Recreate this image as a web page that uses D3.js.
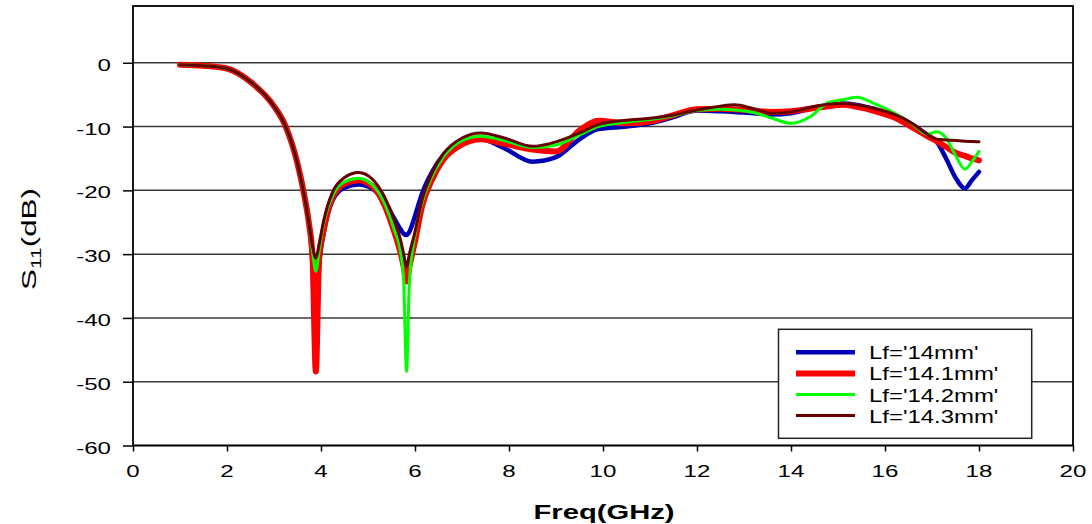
<!DOCTYPE html>
<html>
<head>
<meta charset="utf-8">
<script src="https://cdn.jsdelivr.net/npm/d3@7"></script>
<style>
  html, body { margin: 0; padding: 0; background: #fff; }
  svg { display: block; }
  text { font-family: Arial, "Liberation Sans", sans-serif; fill: #000; }
</style>
</head>
<body>
<svg id="chart" width="1092" height="524"></svg>
<script>
// Frequency sweep (GHz), shared by all four simulations
const freq = [1.0, 1.5, 2.0, 2.5, 3.0, 3.25, 3.5, 3.65, 3.75, 3.82,
  3.89, 3.96, 4.05, 4.25, 4.5, 4.8, 5.1, 5.35, 5.55, 5.7,
  5.76, 5.82, 5.88, 6.0, 6.15, 6.35, 6.6, 7.0, 7.4, 7.9,
  8.5, 9.0, 9.5, 9.9, 10.5, 11.0, 11.5, 12.0, 12.5, 12.8,
  13.2, 13.6, 14.0, 14.4, 14.8, 15.1, 15.4, 15.8, 16.2, 16.6,
  16.9, 17.1, 17.3, 17.5, 17.7, 17.85, 18.0];

// S11 (dB) for each feed length
const s11_14 = [-0.3, -0.45, -0.9, -3.0, -6.8, -10.0, -15.8, -21, -25.5, -32,
  -46, -32, -27, -21.5, -19.6, -19.1, -19.8, -21.8, -24.3, -26.2,
  -26.8, -27.0, -26.5, -24, -20.5, -17.3, -14.5, -12.6, -12.0, -13.4,
  -15.5, -14.8, -12.0, -10.4, -10.0, -9.5, -8.5, -7.5, -7.6, -7.7,
  -7.9, -8.1, -7.9, -7.2, -6.6, -6.4, -6.6, -7.3, -8.2, -9.8,
  -11.3, -12.4, -15, -18, -19.7, -18.4, -17.1];

const s11_141 = [-0.3, -0.45, -0.9, -3.0, -6.8, -10.0, -15.8, -21, -25.5, -30.5,
  -48.4, -30.5, -26.5, -21, -19, -18.4, -19.4, -22.3, -26.3, -30,
  -32, -34.3, -32, -28, -22.5, -18.5, -15.2, -12.8, -12.0, -12.7,
  -13.6, -13.9, -10.6, -9.1, -9.5, -9.2, -8.2, -7.3, -7.2, -7.3,
  -7.5, -7.7, -7.6, -7.2, -6.8, -6.6, -6.9, -7.6, -8.6, -10.2,
  -11.5, -12.3, -13.2, -14.1, -14.6, -15.0, -15.3];

const s11_142 = [-0.3, -0.45, -0.9, -3.0, -6.8, -10.0, -15.8, -21, -25.5, -29.5,
  -32.7, -29.5, -25.5, -20.8, -18.7, -18.1, -19.2, -22, -26, -30,
  -34.5, -48.4, -34.5, -27, -22, -18, -14.8, -12.2, -11.5, -12.2,
  -13.3, -12.9, -11.3, -10.0, -9.3, -8.9, -8.3, -7.5, -7.3, -7.4,
  -7.8, -8.7, -9.5, -8.5, -6.2, -5.8, -5.4, -6.5, -7.9, -9.7,
  -11.2, -10.8, -11.8, -14.5, -16.7, -15.5, -13.9];

const s11_143 = [-0.3, -0.45, -0.9, -3.0, -6.8, -10.0, -15.8, -21, -25.5, -28.8,
  -30.6, -28.5, -25, -20.2, -18, -17.2, -18.3, -21, -24.5, -28,
  -30, -32.0, -30, -26.5, -21.5, -17.5, -14.3, -11.8, -11.0, -11.8,
  -13.1, -12.4, -11.0, -9.7, -9.0, -8.7, -8.2, -7.4, -6.8, -6.6,
  -7.2, -7.9, -7.7, -7.0, -6.5, -6.4, -6.6, -7.2, -8.1, -9.6,
  -11.2, -12.0, -12.1, -12.2, -12.3, -12.35, -12.4];

const seriesNames = ["Lf='14mm'", "Lf='14.1mm'", "Lf='14.2mm'", "Lf='14.3mm'"];
const seriesValues = [s11_14, s11_141, s11_142, s11_143];
const seriesColors = ["#0000b4", "#ff0000", "#00ff00", "#660000"];
const seriesWidths = [4.5, 6, 3, 3];

const xTicks = [0, 2, 4, 6, 8, 10, 12, 14, 16, 18, 20];
const yTicks = [0, -10, -20, -30, -40, -50, -60];

const svg = d3.select("#chart");
const plot = { left: 133, right: 1073, top: 6, bottom: 445.5 };
const WIDE = 1.42; // horizontal glyph stretch used for all labels

const x = d3.scaleLinear().domain([0, 20]).range([plot.left, plot.right]);
const y = d3.scaleLinear().domain([-60, 8.9]).range([plot.bottom, plot.top]);
const fmt = d => String(d); // plain hyphen-minus

// Draws a horizontally stretched label anchored at (px, py)
function label(parent, px, py, str, opts) {
  const t = parent.append("text")
    .attr("transform", `translate(${px},${py}) scale(${opts.sx || WIDE},1)`)
    .attr("text-anchor", opts.anchor || "start")
    .attr("font-size", opts.size || 17)
    .text(str);
  if (opts.bold) t.attr("font-weight", "bold");
  return t;
}

// horizontal grid lines
svg.append("g")
  .selectAll("line")
  .data(yTicks)
  .join("line")
  .attr("x1", plot.left).attr("x2", plot.right)
  .attr("y1", d => y(d)).attr("y2", d => y(d))
  .attr("stroke", "#3a3a3a").attr("stroke-width", 1.5);

// x axis ticks
const xAxis = svg.append("g")
  .attr("transform", `translate(0,${plot.bottom})`)
  .call(d3.axisBottom(x).tickValues(xTicks).tickSize(6).tickFormat(""));
xAxis.select(".domain").remove();
xAxis.selectAll(".tick line").attr("stroke", "#000").attr("stroke-width", 1.5);

// y axis ticks
const yAxis = svg.append("g")
  .attr("transform", `translate(${plot.left},0)`)
  .call(d3.axisLeft(y).tickValues(yTicks).tickSize(10).tickFormat(""));
yAxis.select(".domain").remove();
yAxis.selectAll(".tick line").attr("stroke", "#000").attr("stroke-width", 1.5);

// tick labels
const tickLabels = svg.append("g");
xTicks.forEach(v => label(tickLabels, x(v), 477, fmt(v), { anchor: "middle", size: 17 }));
yTicks.forEach(v => label(tickLabels, 111, y(v) + 8, fmt(v), { anchor: "end", size: 17 }));

// curves
const line = d3.line()
  .x(d => x(d[0]))
  .y(d => y(d[1]))
  .curve(d3.curveMonotoneX);

svg.append("clipPath").attr("id", "plotClip")
  .append("rect")
  .attr("x", plot.left).attr("y", plot.top)
  .attr("width", plot.right - plot.left).attr("height", plot.bottom - plot.top);

svg.append("g").attr("clip-path", "url(#plotClip)")
  .selectAll("path")
  .data(seriesValues.map((vals, i) => ({ i, pts: freq.map((f, k) => [f, vals[k]]) })))
  .join("path")
  .attr("d", d => line(d.pts))
  .attr("fill", "none")
  .attr("stroke", d => seriesColors[d.i])
  .attr("stroke-width", d => seriesWidths[d.i])
  .attr("stroke-linejoin", "round")
  .attr("stroke-linecap", "round");

// plot frame
svg.append("rect")
  .attr("x", plot.left).attr("y", plot.top)
  .attr("width", plot.right - plot.left).attr("height", plot.bottom - plot.top)
  .attr("fill", "none").attr("stroke", "#000").attr("stroke-width", 1.8);

// legend
const legend = svg.append("g");
legend.append("rect")
  .attr("x", 778.5).attr("y", 329.3).attr("width", 253.2).attr("height", 109)
  .attr("fill", "#fff").attr("stroke", "#222").attr("stroke-width", 1.5);
seriesNames.forEach((name, i) => {
  const ly = 352.3 + i * 21.1;
  legend.append("line")
    .attr("x1", 796).attr("x2", 855).attr("y1", ly).attr("y2", ly)
    .attr("stroke", seriesColors[i]).attr("stroke-width", seriesWidths[i]);
  label(legend, 869, ly + 7, name, { size: 18, sx: 1.33 });
});

// axis titles
label(svg, 604, 519, "Freq(GHz)", { anchor: "middle", size: 20, bold: true, sx: 1.46 });

const yTitle = svg.append("text")
  .attr("text-anchor", "middle")
  .attr("font-size", 21);
yTitle.append("tspan").text("S");
yTitle.append("tspan").attr("font-size", 14).attr("dy", 5).text("11");
yTitle.append("tspan").attr("dy", -5).text("(dB)");
const yTitleLen = yTitle.node().getComputedTextLength();
yTitle.attr("transform", `translate(36,239) rotate(-90) scale(${102 / yTitleLen},1)`);
</script>
</body>
</html>
